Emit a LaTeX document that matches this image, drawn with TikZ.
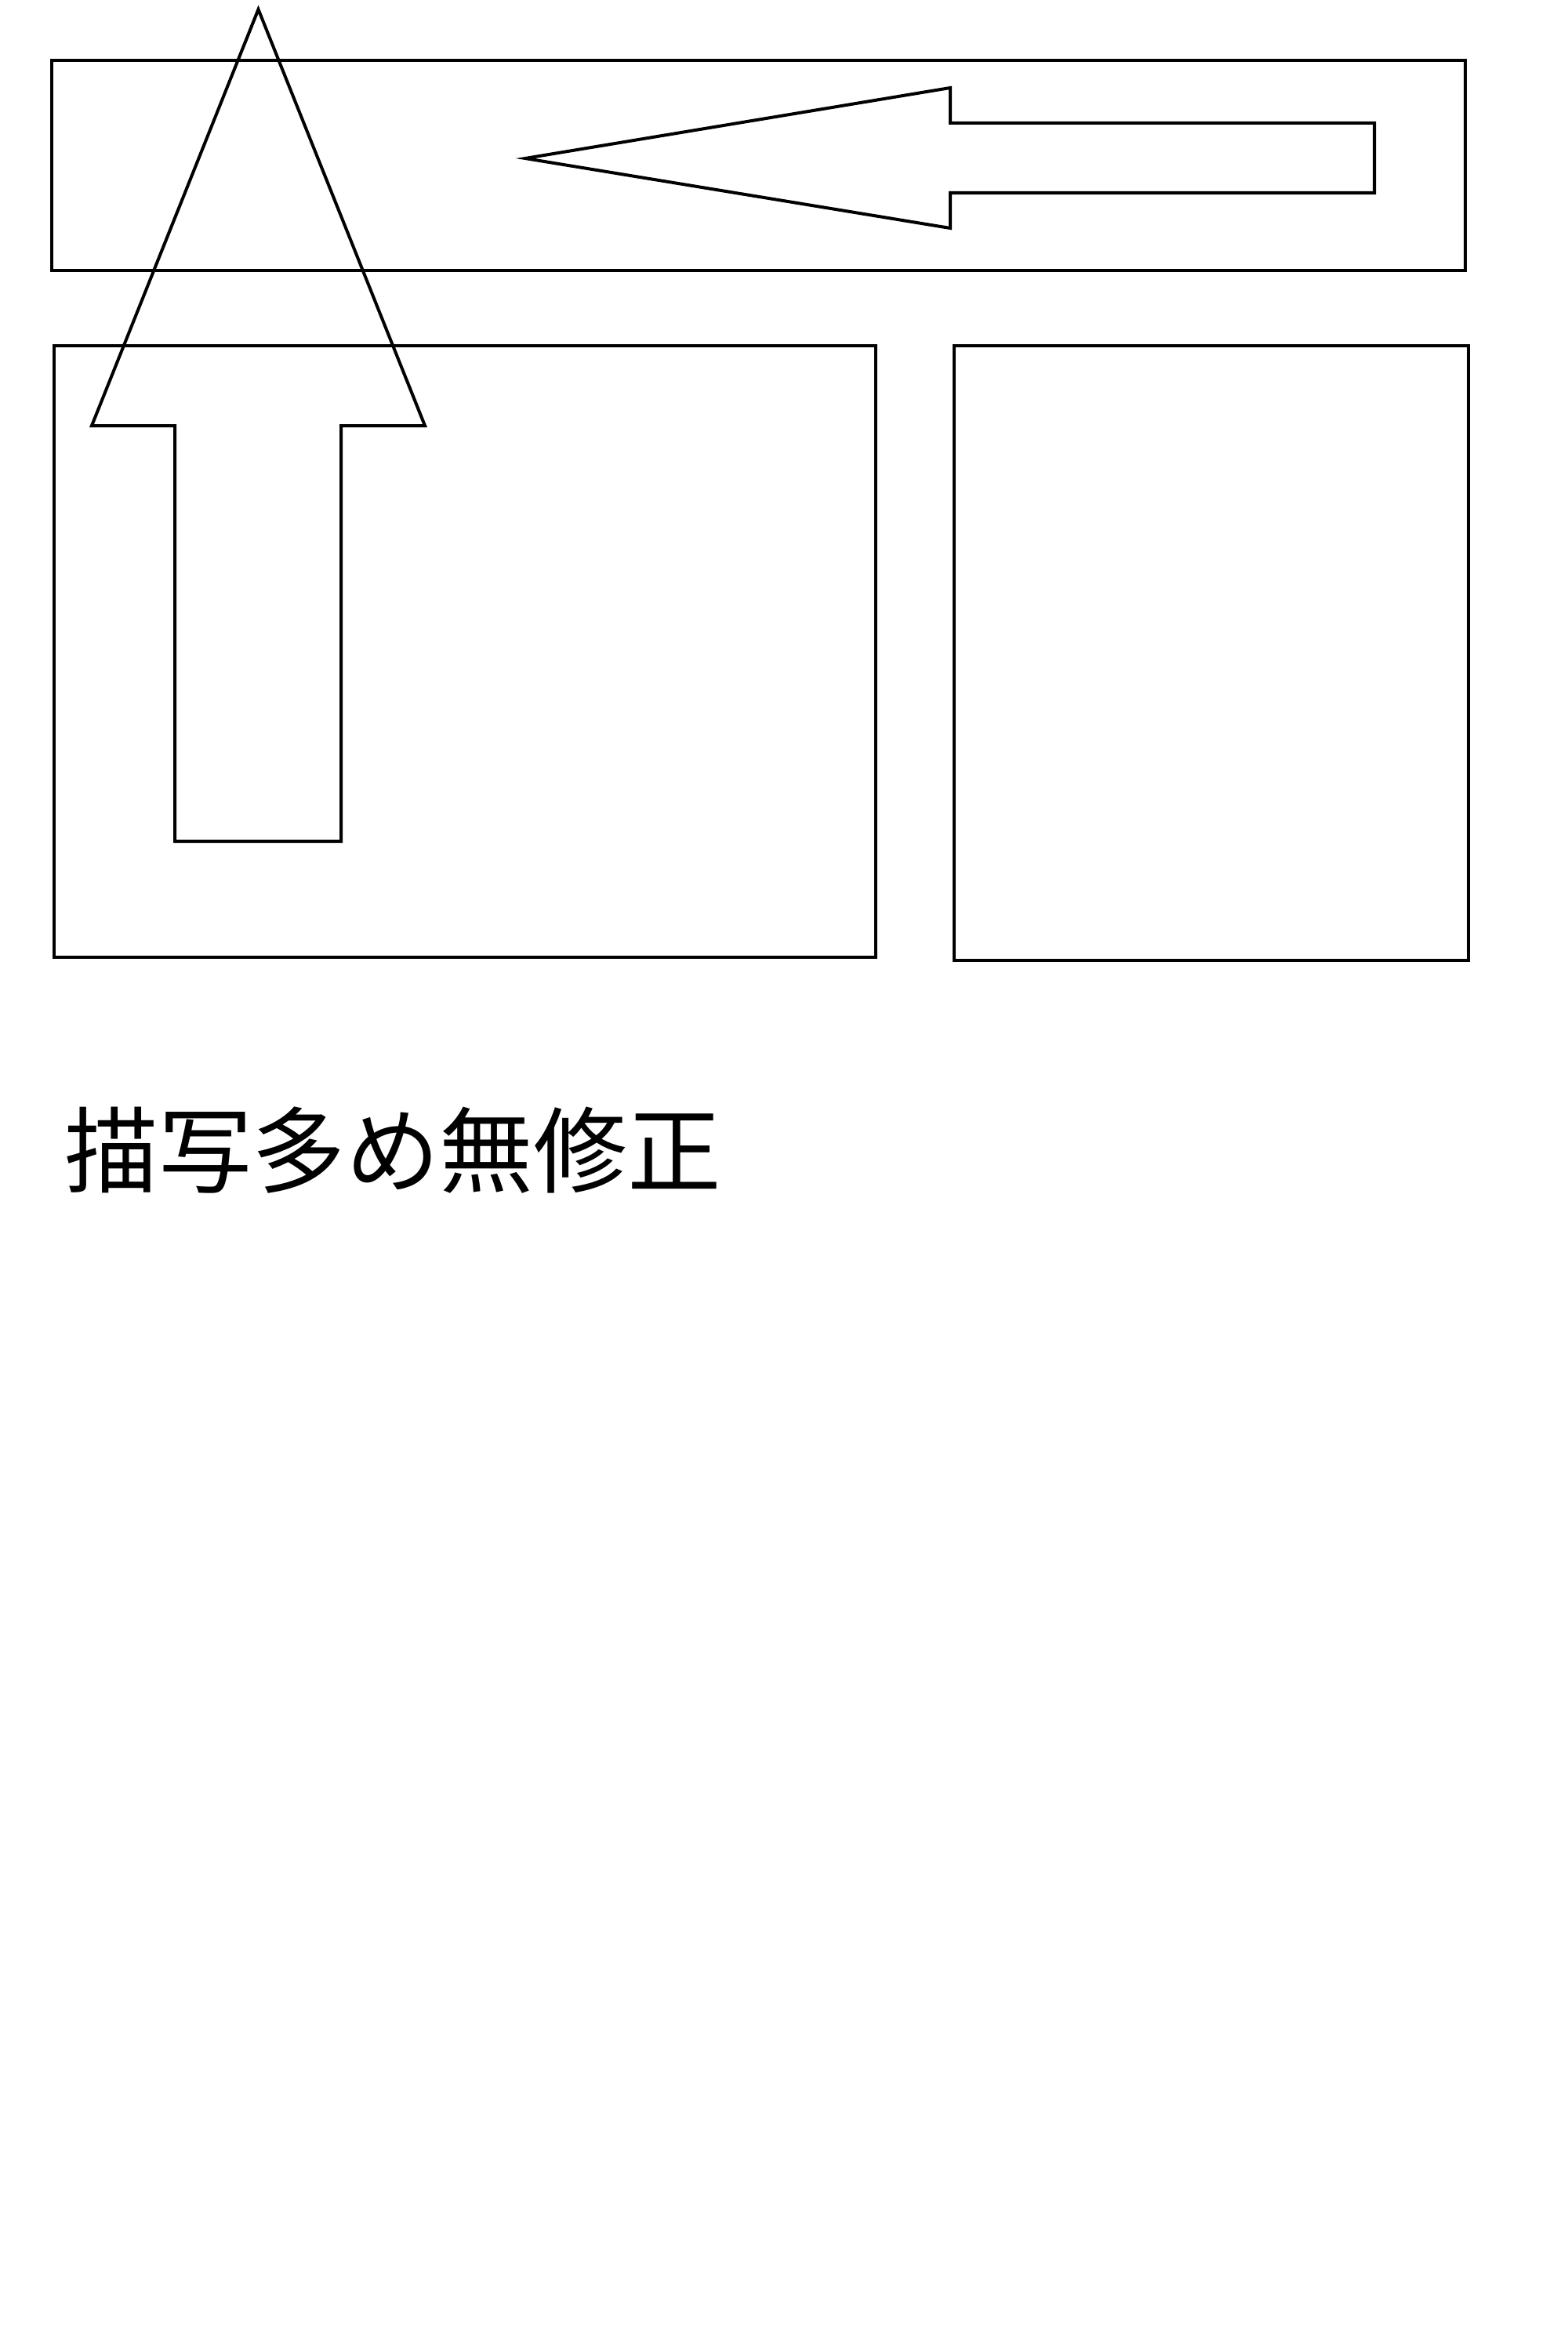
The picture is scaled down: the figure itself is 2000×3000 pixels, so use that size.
\documentclass[tikz,border=0pt]{standalone}
\usepackage{fontspec}
\newfontfamily\cjk{Noto Sans CJK JP}
\begin{document}
\begin{tikzpicture}[x=0.01cm,y=-0.01cm,
  outline/.style={draw=black,line width=0.04cm,line join=miter},
  caption/.style={font=\cjk\fontsize{34pt}{40pt}\selectfont,inner sep=0pt,anchor=base west}]
\useasboundingbox (0,0) rectangle (2000,3000);
% panels
\draw[outline] (65.5,77) rectangle (1869,345);
\draw[outline] (69,441) rectangle (1117,1221);
\draw[outline] (1217,441) rectangle (1873,1225);
% left-pointing arrow
\draw[outline] (670,202) -- (1212,112) -- (1212,157) -- (1753,157) -- (1753,246) -- (1212,246) -- (1212,291) -- cycle;
% up-pointing arrow
\draw[outline] (329.5,12) -- (542,543) -- (435,543) -- (435,1073) -- (223,1073) -- (223,543) -- (117,543) -- cycle;
% caption
\node[caption] (cap) at (82,1512) {描写多め無修正};
\end{tikzpicture}
\end{document}
